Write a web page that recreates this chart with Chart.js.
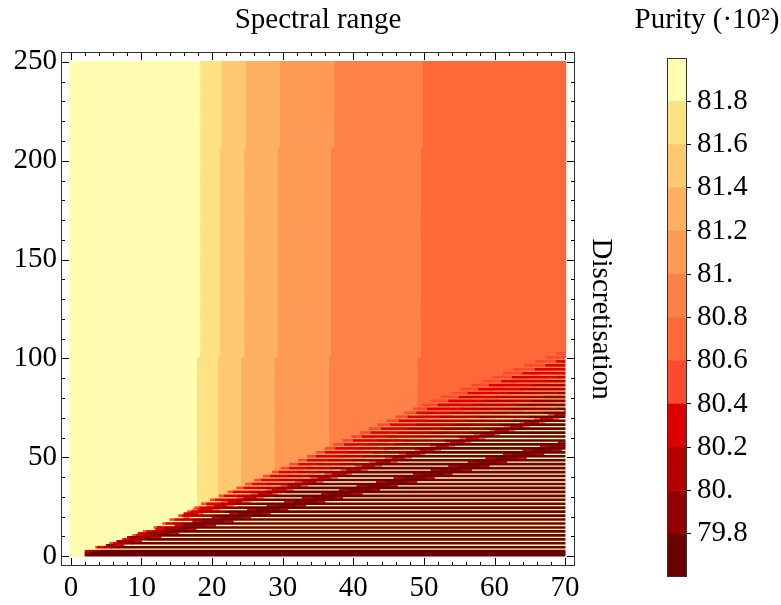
<!DOCTYPE html>
<html><head><meta charset="utf-8">
<script src="https://cdn.jsdelivr.net/npm/chart.js@4.4.1/dist/chart.umd.min.js"></script>
<style>
html,body{margin:0;padding:0;background:#fff;}
#wrap{position:relative;width:781px;height:605px;overflow:hidden;}
#main{position:absolute;left:0;top:0;}
#bar{position:absolute;left:633px;top:0;}
</style></head><body>
<div id="wrap"><canvas id="main" width="633" height="605"></canvas><canvas id="bar" width="148" height="605"></canvas></div>
<script>
// ---------------- data ----------------
const xTickValues = [0, 10, 20, 30, 40, 50, 60, 70];
const yTickValues = [0, 50, 100, 150, 200, 250];
const xMinorStep = 2;
const yMinorStep = 10;
const spectralRange = [0, 70];
const discretisation = [0, 250];

// colour levels (purity /100)
const purityLevels = [79.6, 79.8, 80.0, 80.2, 80.4, 80.6, 80.8, 81.0, 81.2, 81.4, 81.6, 81.8, 82.0];
const levelColors = ['#6b0000', '#930000', '#b70000', '#dc0000', '#fb4a2d', '#fe6939', '#fe8248', '#fe9a55', '#feb062', '#fec970', '#fee283', '#fffdb1'];
const colorbarTicks = [79.8, 80.0, 80.2, 80.4, 80.6, 80.8, 81.0, 81.2, 81.4, 81.6, 81.8];
const colorbarLabels = ['79.8', '80.', '80.2', '80.4', '80.6', '80.8', '81.', '81.2', '81.4', '81.6', '81.8'];

// smooth (converged) region: purity plateau of each spectral-range band
const bandPurity = [81.9, 81.7, 81.5, 81.3, 81.1, 80.9, 80.7];
const bandRowStart = [0, 100, 206];          // discretisation where each edge set starts
const bandEdges = [
  [18.0, 20.9, 24.3, 29.0, 36.8, 49.3],
  [18.4, 21.2, 24.7, 29.4, 37.1, 49.8],
  [18.6, 21.4, 25.0, 29.7, 37.4, 50.1]
];

// oscillating (under-resolved) region: upper edge of the striped zone
const stripeEdgeX = [2, 4, 6, 8, 10, 12, 15, 20, 30, 40, 50, 60, 70];
const stripeEdgeY = [3, 5, 7, 9.5, 12, 15, 20, 29, 45, 61, 77, 91, 104];
const darkRowPurity = [80.5, 79.7];     // at the edge, deep inside
const lightRowPurity = 81.9;            // deep inside
const fadeDepth = [0.3, 1.5];           // fraction of edge height, offset

// diagonal ridges inside the striped zone
const ridgeX0 = [5, 16];
const ridgeY0 = [5.8, 20.6];
const ridgeX1 = [70, 70];
const ridgeY1 = [56.0, 72.0];
const ridgeCore = [1.2, 0.9];
const ridgeHalo = [2.2, 1.8];
const ridgeCorePurity = [79.9, 80.3];
const ridgeHaloPurity = [80.3, 80.7];

// ---------------- build cells ----------------
function levelOf(p) {
  for (let i = 0; i < levelColors.length; i++) if (p < purityLevels[i + 1]) return i;
  return levelColors.length - 1;
}
function stripeTopAt(x) {
  if (x < stripeEdgeX[0]) return -Infinity;
  for (let i = 1; i < stripeEdgeX.length; i++) {
    if (x <= stripeEdgeX[i]) {
      const t = (x - stripeEdgeX[i - 1]) / (stripeEdgeX[i] - stripeEdgeX[i - 1]);
      return stripeEdgeY[i - 1] + t * (stripeEdgeY[i] - stripeEdgeY[i - 1]);
    }
  }
  return stripeEdgeY[stripeEdgeY.length - 1];
}
function bandAt(x, yc) {
  let r = 0;
  for (let i = 0; i < bandRowStart.length; i++) if (yc >= bandRowStart[i]) r = i;
  const e = bandEdges[r];
  let k = 0;
  while (k < e.length && x >= e[k]) k++;
  return bandPurity[k];
}
function isDarkRow(n) { return n % 2 === 0 || n === 1; }
function cellPurity(x, n) {
  const yc = n + 0.5;
  const bg = bandAt(x, yc);
  const top = stripeTopAt(x);
  if (yc > top) return bg;
  const f = Math.min(1, (top - yc) / (fadeDepth[0] * top + fadeDepth[1]));
  if (isDarkRow(n)) return darkRowPurity[0] + (darkRowPurity[1] - darkRowPurity[0]) * f;
  let p = bg + (lightRowPurity - bg) * f;
  for (let r = 0; r < ridgeX0.length; r++) {
    if (x < ridgeX0[r]) continue;
    const yr = ridgeY0[r] + (x - ridgeX0[r]) * (ridgeY1[r] - ridgeY0[r]) / (ridgeX1[r] - ridgeX0[r]);
    const d = Math.abs(yc - yr);
    if (d < ridgeCore[r]) p = Math.min(p, ridgeCorePurity[r]);
    else if (d < ridgeHalo[r]) p = Math.min(p, ridgeHaloPurity[r]);
  }
  return p;
}
// runs of equal colour per row; "plain" runs (same as the plateau colour) kept apart from stripe runs
const plainCells = levelColors.map(() => []);
const stripeCells = levelColors.map(() => []);
const dx = 0.25;
for (let n = discretisation[0]; n < discretisation[1]; n++) {
  const yc = n + 0.5;
  let runStart = spectralRange[0], runKey = null;
  const flush = (end) => {
    const lv = runKey % 100, plain = runKey >= 100;
    (plain ? plainCells : stripeCells)[lv].push({ x: [runStart, end], y: yc });
  };
  for (let x = spectralRange[0]; x < spectralRange[1] - 1e-9; x += dx) {
    const xc = x + dx / 2;
    const lv = levelOf(cellPurity(xc, n));
    const key = lv + (lv === levelOf(bandAt(xc, yc)) ? 100 : 0);
    if (runKey === null) { runKey = key; runStart = x; }
    else if (key !== runKey) { flush(x); runKey = key; runStart = x; }
  }
  flush(spectralRange[1]);
}

// ---------------- charts ----------------
const serif = "'Liberation Serif', 'Times New Roman', serif";
const font = { family: serif, size: 29, weight: 'normal' };

const frameTicks = {
  id: 'frameTicks',
  afterDatasetsDraw(chart) {
    const { ctx, chartArea: a, scales: { x, y } } = chart;
    ctx.save();
    ctx.strokeStyle = '#000';
    ctx.lineWidth = 1;
    ctx.beginPath();
    for (let v = xTickValues[0]; v <= xTickValues[xTickValues.length - 1]; v += xMinorStep) {
      const px = Math.round(x.getPixelForValue(v)) + 0.5;
      const L = xTickValues.includes(v) ? 8 : 4;
      ctx.moveTo(px, a.bottom); ctx.lineTo(px, a.bottom - L);
      ctx.moveTo(px, a.top); ctx.lineTo(px, a.top + L);
    }
    for (let v = yTickValues[0]; v <= yTickValues[yTickValues.length - 1]; v += yMinorStep) {
      const py = Math.round(y.getPixelForValue(v)) + 0.5;
      const L = yTickValues.includes(v) ? 8 : 4;
      ctx.moveTo(a.left, py); ctx.lineTo(a.left + L, py);
      ctx.moveTo(a.right, py); ctx.lineTo(a.right - L, py);
    }
    ctx.stroke();
    ctx.strokeStyle = '#333';
    ctx.strokeRect(a.left + 0.5, a.top + 0.5, a.right - a.left - 1, a.bottom - a.top - 1);
    ctx.restore();
  }
};

function makeMain() {
  const datasets = [];
  plainCells.forEach((d, i) => datasets.push({
    data: d, backgroundColor: levelColors[i], borderWidth: 0, inflateAmount: 1, order: 1,
    grouped: false, categoryPercentage: 1, barPercentage: 1, xAxisID: 'x', yAxisID: 'y'
  }));
  stripeCells.forEach((d, i) => datasets.push({
    data: d, backgroundColor: levelColors[i], borderWidth: 0, order: 0,
    grouped: false, categoryPercentage: 1, barPercentage: 1, xAxisID: 'x', yAxisID: 'y'
  }));
  new Chart(document.getElementById('main'), {
    type: 'bar',
    data: { datasets },
    options: {
      indexAxis: 'y',
      responsive: false, animation: false, events: [],
      layout: { padding: 0 },
      plugins: { legend: { display: false }, tooltip: { enabled: false } },
      scales: {
        x: {
          type: 'linear', position: 'bottom', min: -1.4, max: 71.4, offset: false,
          afterBuildTicks: s => { s.ticks = xTickValues.map(v => ({ value: v })); },
          afterFit: s => { s.height = 39; },
          grid: { display: false, drawTicks: false }, border: { display: false },
          ticks: { color: '#000', font, padding: 5, maxRotation: 0, autoSkip: false }
        },
        xTop: {
          type: 'linear', position: 'top', min: -1.4, max: 71.4,
          grid: { display: false, drawTicks: false }, border: { display: false },
          ticks: { display: false },
          title: { display: true, text: 'Spectral range', color: '#000', font, padding: { top: 3, bottom: 0 } },
          afterFit: s => { s.height = 52; }
        },
        y: {
          type: 'linear', position: 'left', min: -5, max: 255, offset: false,
          afterBuildTicks: s => { s.ticks = yTickValues.map(v => ({ value: v })); },
          afterFit: s => { s.width = 61; },
          grid: { display: false, drawTicks: false }, border: { display: false },
          ticks: { color: '#000', font, padding: 4, autoSkip: false }
        },
        yRight: {
          type: 'linear', position: 'right', min: -5, max: 255,
          grid: { display: false, drawTicks: false }, border: { display: false },
          ticks: { display: false },
          title: { display: true, text: '\u2002\u2009Discretisation', color: '#000', font, padding: { top: 15, bottom: 0 } },
          afterFit: s => { s.width = 58; }
        }
      }
    },
    plugins: [frameTicks]
  });
}

const cbFrame = {
  id: 'cbFrame',
  afterDatasetsDraw(chart) {
    const { ctx, chartArea: a } = chart;
    ctx.save();
    ctx.strokeStyle = '#333';
    ctx.lineWidth = 1;
    ctx.strokeRect(a.left + 0.5, a.top + 0.5, a.right - a.left - 1, a.bottom - a.top - 1);
    ctx.restore();
  }
};

function makeColorbar() {
  new Chart(document.getElementById('bar'), {
    type: 'bar',
    data: {
      labels: [''],
      datasets: levelColors.map((c, i) => ({
        data: [[purityLevels[i], purityLevels[i + 1]]], backgroundColor: c, borderWidth: 0,
        grouped: false, categoryPercentage: 1, barPercentage: 1, xAxisID: 'x', yAxisID: 'y'
      }))
    },
    options: {
      responsive: false, animation: false, events: [],
      layout: { padding: { left: 0, top: 0, bottom: 28, right: 0 } },
      plugins: {
        legend: { display: false }, tooltip: { enabled: false },
        title: { display: true, text: 'Purity (·10²)', color: '#000', font, padding: { top: 3, bottom: 20.2 } }
      },
      scales: {
        x: { type: 'category', display: false },
        y: {
          type: 'linear', position: 'right', min: purityLevels[0], max: purityLevels[purityLevels.length - 1],
          afterBuildTicks: s => { s.ticks = colorbarTicks.map(v => ({ value: v })); },
          afterFit: s => { s.width = 94; },
          grid: { display: true, drawOnChartArea: false, drawTicks: true, tickLength: 4, color: '#000' },
          border: { display: false },
          ticks: { color: '#000', font, padding: 6, autoSkip: false,
            callback: v => colorbarLabels[colorbarTicks.indexOf(v)] }
        },
        yPad: {
          type: 'linear', position: 'left', display: true, min: 0, max: 1,
          grid: { display: false, drawTicks: false }, border: { display: false },
          ticks: { display: false },
          afterFit: s => { s.width = 34; }
        }
      }
    },
    plugins: [cbFrame]
  });
}

function start() { makeMain(); makeColorbar(); }
if (document.fonts && document.fonts.load) {
  document.fonts.load("29px 'Liberation Serif'").then(start, start);
} else start();
</script>
</body></html>
